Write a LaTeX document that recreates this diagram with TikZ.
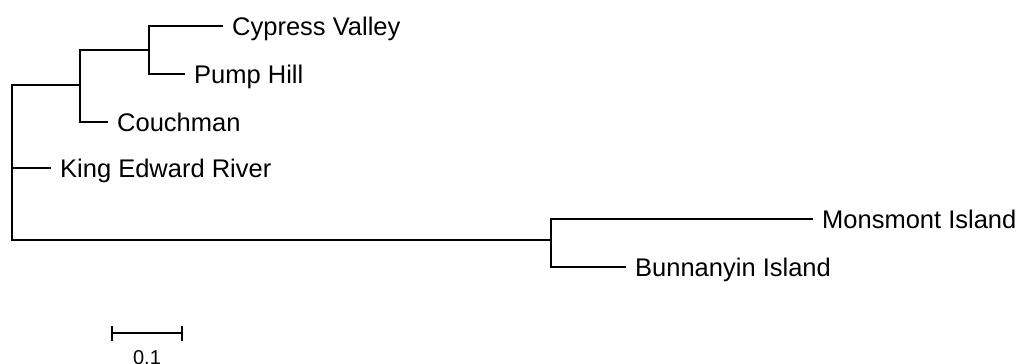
\documentclass[tikz,border=0pt]{standalone}
\usepackage{fontspec}
\setmainfont{Liberation Sans}
\begin{document}
\begin{tikzpicture}[x=1pt,y=-1pt,
  branch/.style={line width=1.4pt,line cap=rect},
  leaf/.style={anchor=west,inner sep=0pt,xshift=10pt,
    font=\fontsize{25.5}{30}\selectfont,text height=18.3pt,text depth=0pt},
  scalelbl/.style={anchor=base,inner sep=0pt,font=\fontsize{20}{24}\selectfont}]
\useasboundingbox (0,0) rectangle (1023,364);
% internal nodes of the tree
\coordinate (root) at (12,85);
\coordinate (rootlow) at (12,240);
\coordinate (a) at (80,85);
\coordinate (b) at (149,50);
\coordinate (c) at (551,240);
% tips
\coordinate (tcv) at (222,26);
\coordinate (tph) at (184,74);
\coordinate (tco) at (107,122);
\coordinate (tke) at (50,168);
\coordinate (tmi) at (812,219);
\coordinate (tbi) at (625,267);
% tip labels
\node[leaf] (lcv) at (tcv) {Cypress Valley};
\node[leaf] (lph) at (tph) {Pump Hill};
\node[leaf] (lco) at (tco) {Couchman};
\node[leaf] (lke) at (tke) {King Edward River};
\node[leaf] (lmi) at (tmi) {Monsmont Island};
\node[leaf] (lbi) at (tbi) {Bunnanyin Island};
% branches
\draw[branch] (root) -- (rootlow) -- (c);
\draw[branch] (root) -- (a);
\draw[branch] (root |- tke) -- (tke);
\draw[branch] (a |- b) |- (tco);
\draw[branch] (a |- b) -- (b);
\draw[branch] (b |- tcv) -- (tcv);
\draw[branch] (b |- tcv) |- (tph);
\draw[branch] (c |- tmi) -- (tmi);
\draw[branch] (c |- tmi) |- (tbi);
% scale bar
\coordinate (s0) at (112,333);
\coordinate (s1) at (182,333);
\draw[line width=1.4pt] (s0) -- (s1);
\draw[line width=1.4pt] ([yshift=-7.5pt]s0) -- ([yshift=7.5pt]s0);
\draw[line width=1.4pt] ([yshift=-7.5pt]s1) -- ([yshift=7.5pt]s1);
\node[scalelbl] (sl) at (147,364) {0.1};
\end{tikzpicture}
\end{document}
